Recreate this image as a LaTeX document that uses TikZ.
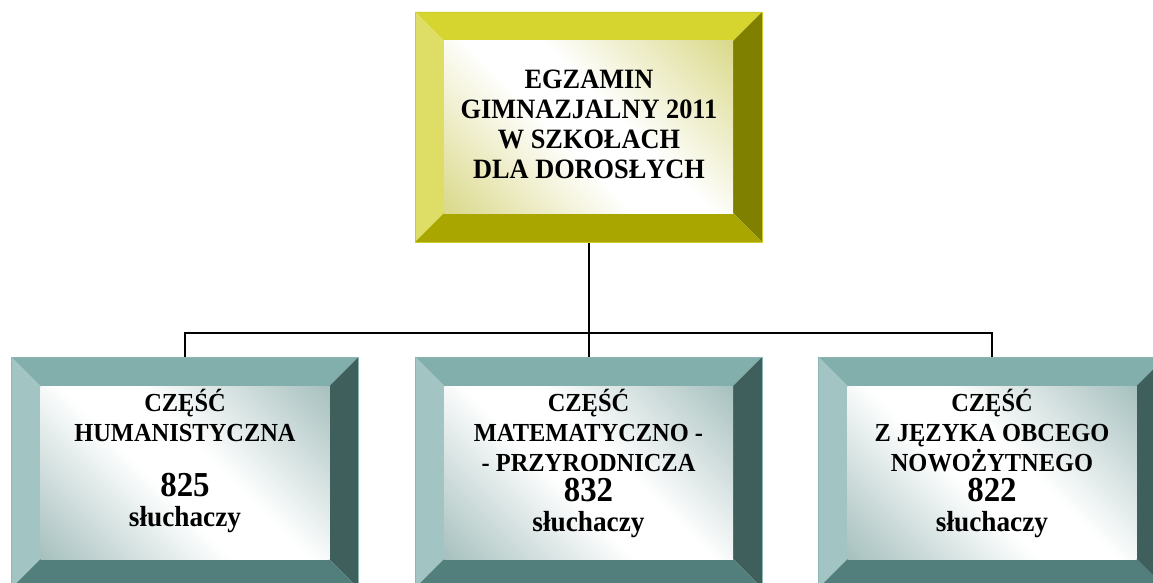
\documentclass[tikz,border=0pt]{standalone}
\usepackage{fontspec}
\setmainfont{Liberation Serif}[FakeStretch=0.94]
\usepackage{tikz}
\usetikzlibrary{positioning, calc}
\usepackage{xcolor}

\definecolor{yTop}{HTML}{D6D42F}
\definecolor{yLeft}{HTML}{DEDD66}
\definecolor{yRight}{HTML}{7F7F00}
\definecolor{yBot}{HTML}{A9A600}
\definecolor{yTint}{HTML}{C8C650}
\definecolor{yEdge}{HTML}{CFCD2A}
\definecolor{tTop}{HTML}{82AEAB}
\definecolor{tLeft}{HTML}{A2C5C3}
\definecolor{tRight}{HTML}{3F5F5D}
\definecolor{tBot}{HTML}{527F7B}
\definecolor{tTint}{HTML}{7AA19E}
\definecolor{tEdge}{HTML}{8BB6B3}

\pgfdeclareverticalshading{yshade}{100bp}{color(0bp)=(yTint); color(44bp)=(white); color(56bp)=(white); color(100bp)=(yTint)}
\pgfdeclareverticalshading{tshade}{100bp}{color(0bp)=(tTint); color(44bp)=(white); color(56bp)=(white); color(100bp)=(tTint)}

\newcommand{\headf}{\bfseries\fontsize{28}{30}\selectfont}
\newcommand{\lblf}{\bfseries\fontsize{26}{30}\selectfont}
\newcommand{\numf}{\fontsize{35}{30}\selectfont}
\newcommand{\slf}{\fontsize{29}{30}\selectfont}

% bevelled frame round a named node: #1 node, #2..#5 top/left/right/bottom, #6 shading, #7 edge
\newcommand{\bevelbox}[7]{%
  \fill[#2] (#1.north west) -- (#1.north east) -- ($(#1.north east)+(-29,29)$) -- ($(#1.north west)+(29,29)$) -- cycle;
  \fill[#3] (#1.north west) -- ($(#1.north west)+(29,29)$) -- ($(#1.south west)+(29,-29)$) -- (#1.south west) -- cycle;
  \fill[#4] (#1.north east) -- ($(#1.north east)+(-29,29)$) -- ($(#1.south east)+(-29,-29)$) -- (#1.south east) -- cycle;
  \fill[#5] (#1.south west) -- ($(#1.south west)+(29,-29)$) -- ($(#1.south east)+(-29,-29)$) -- (#1.south east) -- cycle;
  \shade[shading=#6, shading angle=-45]
    ($(#1.north west)+(29,29)$) rectangle ($(#1.south east)+(-29,-29)$);
  \draw[#7, line width=0.8pt] (#1.north west) rectangle (#1.south east);
}

\begin{document}
\begin{tikzpicture}[x=1pt, y=-1pt]
  \clip (0,0) rectangle (1153,583);
  \tikzstyle{frame} = [rectangle, inner sep=0pt, outer sep=0pt, minimum width=347pt, minimum height=230pt]
  \tikzstyle{lbl} = [align=center, inner sep=0pt, text=black]
  \tikzstyle{conn} = [line width=2pt, black]

  \node[frame] (egzamin) at (588.5,127) {};
  \node[frame, minimum height=231pt] (human) at (185,472.5) {};
  \node[frame, minimum height=231pt] (matprz) at (588.5,472.5) {};
  \node[frame, minimum height=231pt] (jezyk) at (992,472.5) {};

  % connectors
  \draw[conn] (egzamin.south) -- (matprz.north);
  \draw[conn] (human.north) -- ++(0,-24) -| (jezyk.north);

  \bevelbox{egzamin}{yTop}{yLeft}{yRight}{yBot}{yshade}{yEdge}
  \foreach \n in {human, matprz, jezyk} {
    \bevelbox{\n}{tTop}{tLeft}{tRight}{tBot}{tshade}{tEdge}
  }

  \node[lbl, font=\headf] (egzamintxt) at (589,124)
    {EGZAMIN\\GIMNAZJALNY 2011\\W SZKOŁACH\\DLA DOROSŁYCH};
  \node[lbl, font=\lblf] (humantxt) at (185,461)
    {CZĘŚĆ\\HUMANISTYCZNA\\[25pt]{\numf 825}\\{\slf słuchaczy}};
  \node[lbl, font=\lblf] (matprztxt) at (588.5,463)
    {CZĘŚĆ\\MATEMATYCZNO -\\- PRZYRODNICZA\\{\numf 832}\\{\slf słuchaczy}};
  \node[lbl, font=\lblf] (jezyktxt) at (992,463)
    {CZĘŚĆ\\Z JĘZYKA OBCEGO\\NOWOŻYTNEGO\\{\numf 822}\\{\slf słuchaczy}};
\end{tikzpicture}
\end{document}
